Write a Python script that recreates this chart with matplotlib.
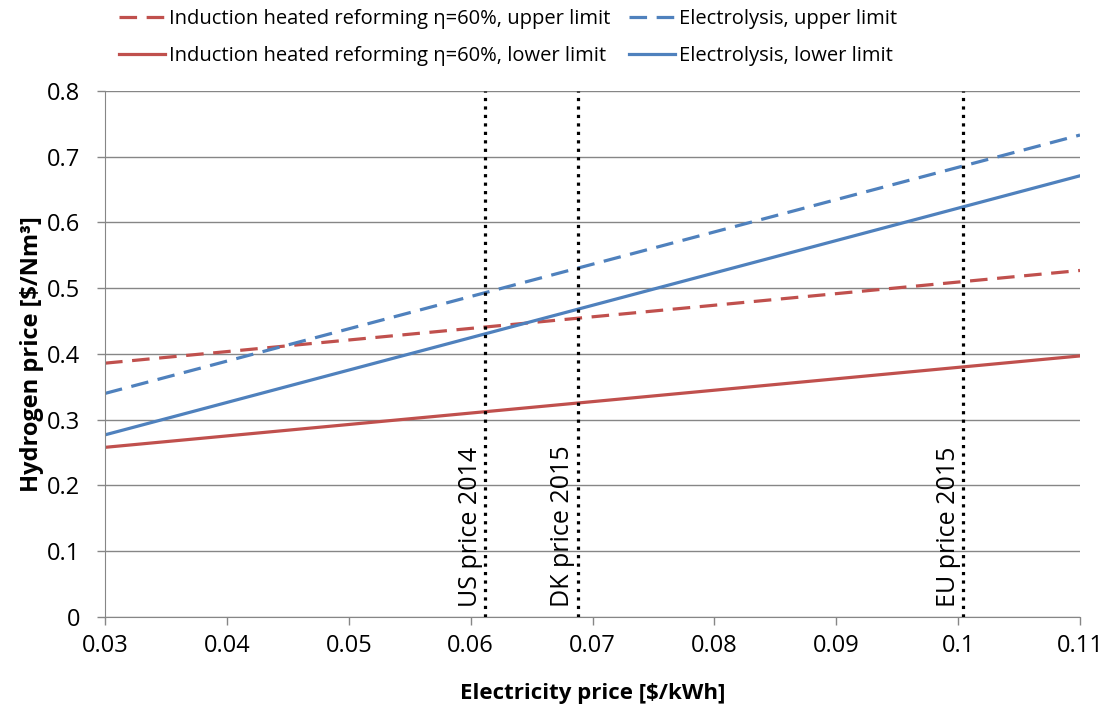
import matplotlib
matplotlib.use("Agg")
import matplotlib.pyplot as plt

plt.rcParams['font.family'] = ['Open Sans', 'DejaVu Sans']

# electricity price [$/kWh] at the ends of each straight line
x = [0.03, 0.11]
ind_upper = [0.386, 0.527]
ind_lower = [0.258, 0.397]
el_upper = [0.340, 0.733]
el_lower = [0.277, 0.671]

price_pos = [0.0612, 0.0688, 0.1004]
price_lab = ["US price 2014", "DK price 2015", "EU price 2015"]

red = "#C0504D"
blue = "#4F81BD"

fig = plt.figure(figsize=(11.07, 7.09), dpi=100)
ax = fig.add_axes([0.0949, 0.1298, 0.8807, 0.7419])

l1, = ax.plot(x, ind_upper, color=red, lw=2.3, dashes=(5.5, 3),
              label="Induction heated reforming η=60%, upper limit")
l2, = ax.plot(x, ind_lower, color=red, lw=2.3,
              label="Induction heated reforming η=60%, lower limit")
l3, = ax.plot(x, el_upper, color=blue, lw=2.3, dashes=(5.5, 3),
              label="Electrolysis, upper limit")
l4, = ax.plot(x, el_lower, color=blue, lw=2.3,
              label="Electrolysis, lower limit")

for p, t in zip(price_pos, price_lab):
    ax.axvline(p, color="black", ls=":", lw=2.3, zorder=3)
    ax.text(p - 0.0002, 0.015, t, rotation=90, ha="right", va="bottom",
            fontsize=18)

ax.set_xlim(0.03, 0.11)
ax.set_ylim(0, 0.8)
ax.set_xticks([0.03, 0.04, 0.05, 0.06, 0.07, 0.08, 0.09, 0.1, 0.11])
ax.set_xticklabels(["0.03", "0.04", "0.05", "0.06", "0.07", "0.08", "0.09", "0.1", "0.11"])
ax.set_yticks([0, 0.1, 0.2, 0.3, 0.4, 0.5, 0.6, 0.7, 0.8])
ax.set_yticklabels(["0", "0.1", "0.2", "0.3", "0.4", "0.5", "0.6", "0.7", "0.8"])
ax.tick_params(labelsize=17, color="#868686", length=6, width=1)
ax.tick_params(axis="x", pad=6)
ax.tick_params(axis="y", pad=12)
ax.grid(axis="y", color="#868686", lw=1)
ax.set_axisbelow(True)
for s in ["top", "right"]:
    ax.spines[s].set_visible(False)
for s in ["left", "bottom"]:
    ax.spines[s].set_color("#868686")

ax.set_xlabel("Electricity price [$/kWh]", fontsize=16, fontweight="bold", labelpad=18)
ax.set_ylabel("Hydrogen price [$/Nm³]", fontsize=17, fontweight="bold", labelpad=2)

fig.legend(handles=[l1, l2, l3, l4], ncol=2, frameon=False, fontsize=14.5,
           loc="upper left", bbox_to_anchor=(0.091, 1.013), columnspacing=0.9,
           handlelength=2.3, handletextpad=0.2, labelspacing=0.85)

fig.savefig("out.png", dpi=100)
